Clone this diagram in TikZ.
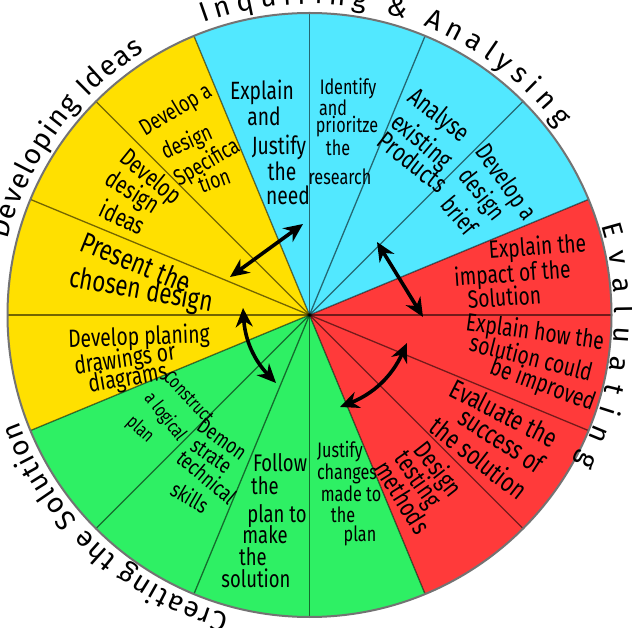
\documentclass[tikz,border=0pt]{standalone}
\usepackage{fontspec}
\newfontfamily\handfont[FakeStretch=0.77]{Fira Sans}
\newfontfamily\rimfont{Fira Sans}
\usetikzlibrary{decorations.text,arrows.meta}
\definecolor{wyellow}{RGB}{255,224,0}
\definecolor{wcyan}{RGB}{82,232,255}
\definecolor{wred}{RGB}{255,58,58}
\definecolor{wgreen}{RGB}{46,240,100}
\begin{document}
\begin{tikzpicture}[x=1pt,y=1pt,
  txt/.style={font=\handfont\fontsize{#1}{#1}\selectfont, inner sep=0pt, text=black},
  sectline/.style={line width=1.3pt, draw=black, draw opacity=0.55},
  rim/.style={line width=2pt, draw=black!55},
  arr/.style={line width=3.6pt, draw=black, arrows={Stealth[length=19pt,width=17pt]-Stealth[length=19pt,width=17pt]}},
  rimlabel/.style={decorate, decoration={text along path, text align={fit to path}, text={|\rimfont\fontsize{28}{28}\selectfont|#1}}}
]
\useasboundingbox (0,0) rectangle (632,627);
\fill[white] (0,0) rectangle (632,627);
\coordinate (O) at (309.5,312);

% wedges
\fill[wred] (O) -- ++(-67.5:302) arc[start angle=-67.5,end angle=22.5,radius=302] -- cycle;
\fill[wcyan] (O) -- ++(22.5:302) arc[start angle=22.5,end angle=112.5,radius=302] -- cycle;
\fill[wyellow] (O) -- ++(112.5:302) arc[start angle=112.5,end angle=202.5,radius=302] -- cycle;
\fill[wgreen] (O) -- ++(202.5:302) arc[start angle=202.5,end angle=292.5,radius=302] -- cycle;
\foreach \a in {0,22.5,...,337.5} \draw[sectline] (O) -- ++(\a:302);
\draw[rim] (O) circle[radius=302];

% rim labels
\path[rimlabel={Developing Ideas}] (O) ++(166:311) arc[start angle=166,end angle=122,radius=311];
\path[rimlabel={Inquiring {\&} Analysing}] (O) ++(110:311) arc[start angle=110,end angle=37,radius=311];
\path[rimlabel={Evaluating}] (O) ++(17:305) arc[start angle=17,end angle=-29,radius=305];
\path[rimlabel={Creating the Solution}] (O) ++(-105:310) arc[start angle=-105,end angle=-160,radius=310];

% yellow
\foreach \t/\x/\y/\r [count=\i] in {Develop a/176/516/31, design/187/484/24, Specifica/207/464/30, tion/214/447/20}
  \node[txt=23, rotate=\r] (spec\i) at (\x,\y) {\t};
\foreach \t/\x/\y/\r [count=\i] in {Develop/150/449/-39, design/132/434/-32, ideas/123/410/-25}
  \node[txt=25, rotate=\r] (idea\i) at (\x,\y) {\t};
\foreach \t/\x/\y/\r [count=\i] in {Present the/136/365/-22, chosen design/141/336/-10}
  \node[txt=29, rotate=\r] (pres\i) at (\x,\y) {\t};
\foreach \t/\x/\y/\r [count=\i] in {Develop planing/139/289/2, drawings or/125/267/8, diagrams/128/248/10}
  \node[txt=25, rotate=\r] (plan\i) at (\x,\y) {\t};

% cyan
\foreach \t/\x/\y [count=\i] in {Explain/262/527, and/264/501, Justify/279/472, the/282/446, need/288/422}
  \node[txt=25, anchor=base] (need\i) at (\x,\y) {\t};
\foreach \t/\x/\y [count=\i] in {Identify/348/532, and/333/511, prioritze/347/494, the/338/471, research/340/442}
  \node[txt=21, anchor=base] (iden\i) at (\x,\y) {\t};
\foreach \t/\x/\y/\r [count=\i] in {Analyse/438/511/-38, existing/421/485/-40, Products/413/465/-38}
  \node[txt=26, rotate=\r] (anal\i) at (\x,\y) {\t};
\foreach \t/\x/\y/\r [count=\i] in {Develop a/505/444/-55, design/481/432/-52, brief/460/412/-50}
  \node[txt=25, rotate=\r] (brief\i) at (\x,\y) {\t};

% red
\foreach \t/\x/\y [count=\i] in {Explain the/538/372, impact of the/513/345, Solution/505/321}
  \node[txt=25, anchor=base, rotate=4] (imp\i) at (\x,\y) {\t};
\foreach \t/\x/\y/\r [count=\i] in {Explain how the/534/287/-8, solution could/529/261/-14, be improved/540/235/-20}
  \node[txt=25, anchor=base, rotate=\r] (impr\i) at (\x,\y) {\t};
\foreach \t/\x/\y/\r [count=\i] in {Evaluate the/504/214/-27, success of/502/187/-33, the solution/479/169/-38}
  \node[txt=27, rotate=\r] (eval\i) at (\x,\y) {\t};
\foreach \t/\x/\y/\r [count=\i] in {Design/437/157/-52, testing/417/147/-55, methods/403/130/-58}
  \node[txt=26, rotate=\r] (test\i) at (\x,\y) {\t};

% green
\foreach \t/\x/\y [count=\i] in {Justify/340/169, changes/347/147, made to/351/125, the/343/105, plan/360/85}
  \node[txt=21, anchor=base] (just\i) at (\x,\y) {\t};
\foreach \t/\x/\y [count=\i] in {Follow/280/155, the/265/132, plan to/277/104, make/265/84, the/253/62, solution/256/40}
  \node[txt=24, anchor=base] (foll\i) at (\x,\y) {\t};
\foreach \t/\x/\y/\r [count=\i] in {Demon/222/188/-35, strate/211/171/-35, technical/207/150/-40, skills/190/130/-30}
  \node[txt=22, rotate=\r] (demo\i) at (\x,\y) {\t};
\foreach \t/\x/\y/\r [count=\i] in {Construct/189/230/-47, a logical/165/210/-52, plan/140/197/-42}
  \node[txt=19, rotate=\r] (cons\i) at (\x,\y) {\t};

% arrows
\coordinate (a1s) at (230,350); \coordinate (a1e) at (303,403);
\coordinate (a2s) at (377,385); \coordinate (a2e) at (423,310);
\coordinate (a3s) at (340,220); \coordinate (a3e) at (407,284);
\coordinate (a4s) at (243,319); \coordinate (a4e) at (276,244);
\draw[arr] (a1s) -- (a1e);
\draw[arr] (a2s) -- (a2e);
\draw[arr] (a3s) to[bend right=22] (a3e);
\draw[arr] (a4s) to[bend right=20] (a4e);
\end{tikzpicture}
\end{document}
